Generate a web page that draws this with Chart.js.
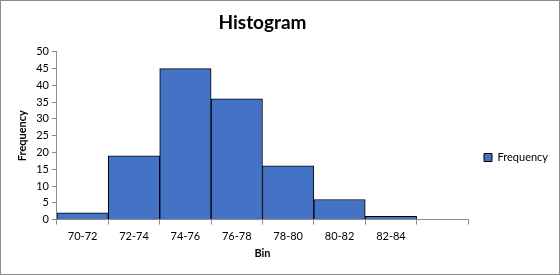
<!DOCTYPE html>
<html><head><meta charset="utf-8">
<script src="https://cdn.jsdelivr.net/npm/chart.js@4"></script>
<style>
html,body{margin:0;padding:0;background:#fff;}
#wrap{position:relative;width:560px;height:275px;box-sizing:border-box;border:1px solid #8c8c8c;}
canvas{display:block;}
</style></head>
<body><div id="wrap"><canvas id="c" width="558" height="273"></canvas></div>
<script>
const categories = ["70-72","72-74","74-76","76-78","78-80","80-82","82-84",""];
const frequency = [2,19,45,36,16,6,1,0];
const yTicks = {min:0,max:50,step:5};

const FONT = "Lato, 'Open Sans', sans-serif";
new Chart(document.getElementById('c'), {
  type: 'bar',
  data: {
    labels: categories,
    datasets: [{
      label: 'Frequency',
      data: frequency,
      backgroundColor: '#4472C4',
      borderColor: '#000000',
      borderWidth: 1,
      categoryPercentage: 1.0,
      barPercentage: 1.0
    }]
  },
  options: {
    responsive: false,
    animation: false,
    devicePixelRatio: 1,
    layout: {padding: {left: 15, right: 1, top: 4, bottom: 14}},
    plugins: {
      title: {display: true, fullSize: false, text: 'Histogram', color: '#000', font: {family: FONT, size: 19, weight: 'bold'}, padding: {top: 6, bottom: 18}},
      legend: {
        position: 'right',
        title: {display: true, text: ' ', font: {size: 10}, padding: {top: 0, bottom: 38}},
        labels: {boxWidth: 8, boxHeight: 8, color: '#000', font: {family: FONT, size: 11}, padding: 16}
      },
      tooltip: {enabled: false}
    },
    scales: {
      x: {
        grid: {display: true, offset: true, drawOnChartArea: false, drawTicks: true, tickLength: 5, color: '#8c8c8c'},
        border: {color: '#8c8c8c'},
        ticks: {color: '#000', font: {family: FONT, size: 11}, padding: 5, maxRotation: 0},
        title: {display: true, text: 'Bin', color: '#000', font: {family: FONT, size: 11, weight: 'bold'}, padding: {top: -1, bottom: 0}}
      },
      y: {
        min: yTicks.min, max: yTicks.max,
        grid: {display: true, drawOnChartArea: false, drawTicks: true, tickLength: 5, color: '#8c8c8c'},
        border: {color: '#8c8c8c'},
        ticks: {stepSize: yTicks.step, color: '#000', font: {family: FONT, size: 11}, padding: 3},
        title: {display: true, text: 'Frequency', color: '#000', font: {family: FONT, size: 11, weight: 'bold'}, padding: {top: 0, bottom: 4}}
      }
    }
  }
});
</script></body></html>
